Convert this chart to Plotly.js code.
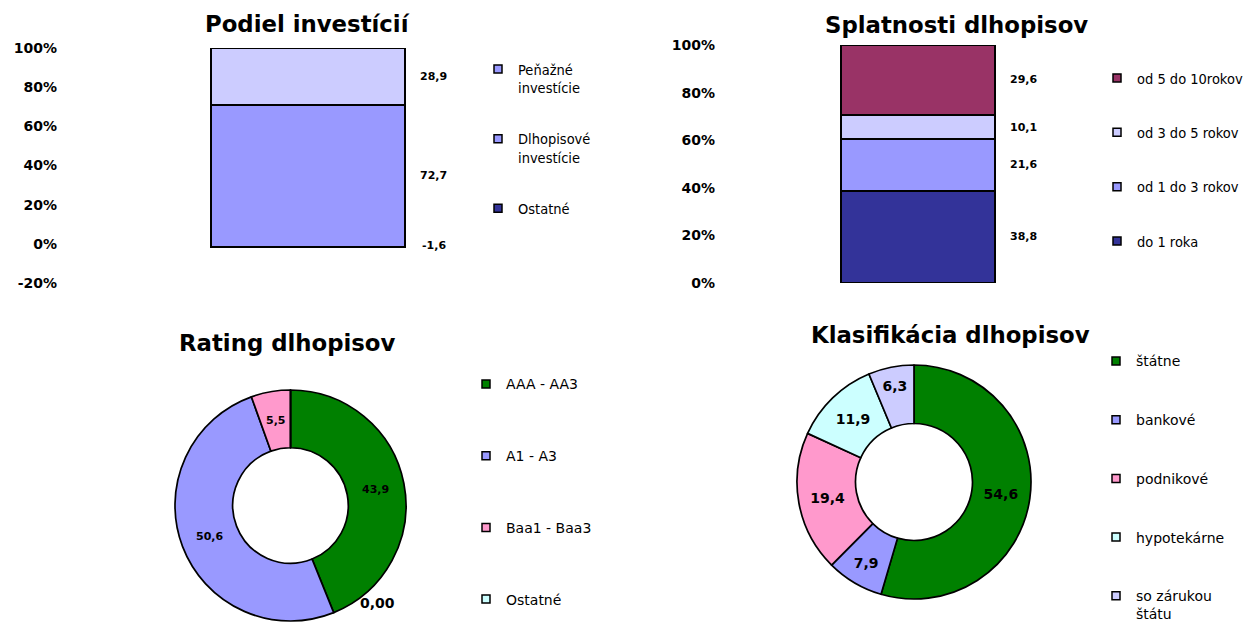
<!DOCTYPE html>
<html><head><meta charset="utf-8">
<script src="https://cdn.plot.ly/plotly-3.0.1.min.js"></script>
<style>html,body{margin:0;padding:0;background:#fff}#chart{width:1243px;height:623px}</style>
</head><body><div id="chart"></div>
<script>
// ---- Data ----
// Podiel investícií (stack order bottom -> top)
const investCategories = ['Ostatné', 'Dlhopisové<br>investície', 'Peňažné<br>investície'];
const investValues = [-1.6, 72.7, 28.9];
const investColors = ['#333399', '#9999FF', '#CCCCFF'];
const investLegendColors = ['#333399', '#9999FF', '#9999FF'];
// Splatnosti dlhopisov (stack order bottom -> top)
const maturityCategories = ['do 1 roka', 'od 1 do 3 rokov', 'od 3 do 5 rokov', 'od 5 do 10rokov'];
const maturityValues = [38.8, 21.6, 10.1, 29.6];
const maturityColors = ['#333399', '#9999FF', '#CCCCFF', '#993366'];
// Rating dlhopisov
const ratingLabels = ['AAA - AA3', 'A1 - A3', 'Baa1 - Baa3', 'Ostatné'];
const ratingValues = [43.9, 50.6, 5.5, 0];
const ratingColors = ['#008000', '#9999FF', '#FF99CC', '#CCFFFF'];
// Klasifikácia dlhopisov
const classLabels = ['štátne', 'bankové', 'podnikové', 'hypotekárne', 'so zárukou<br>štátu'];
const classValues = [54.6, 7.9, 19.4, 11.9, 6.3];
const classColors = ['#008000', '#9999FF', '#FF99CC', '#CCFFFF', '#CCCCFF'];
// Axis ticks
const investTicks = [-20, 0, 20, 40, 60, 80, 100];
const maturityTicks = [0, 20, 40, 60, 80, 100];

// ---- Layout helpers ----
const W = 1243, H = 623;
const px = x => x / W;
const py = y => 1 - y / H;
const fmt = (v, d) => v.toFixed(d).replace('.', ',');
const BOLD = {family: 'DejaVu Sans', weight: 'bold', color: '#000'};
const BAR_LINE = {color: '#000', width: 2};
const PIE_LINE = {color: '#000', width: 1.7};

const traces = [];
const annotations = [];

// Chart 1 bars
const barW1 = 194 / 499;
let cum = 0;
investValues.forEach((v, i) => {
  traces.push({type: 'bar', x: [0], y: [v], width: barW1, xaxis: 'x', yaxis: 'y',
    marker: {color: investColors[i], line: BAR_LINE}, showlegend: false, hoverinfo: 'y',
    name: investCategories[i]});
  annotations.push({xref: 'x', yref: 'y', x: barW1 / 2 + 0.059, y: cum + v / 2,
    text: fmt(v, 1), showarrow: false, xanchor: 'center', yanchor: 'middle',
    font: Object.assign({size: 11}, BOLD)});
  cum += v;
});
// Chart 2 bars
const barW2 = 153.4 / 404;
cum = 0;
maturityValues.forEach((v, i) => {
  traces.push({type: 'bar', x: [0], y: [v], width: barW2, xaxis: 'x2', yaxis: 'y2',
    marker: {color: maturityColors[i], line: BAR_LINE}, showlegend: false, hoverinfo: 'y',
    name: maturityCategories[i]});
  annotations.push({xref: 'x2', yref: 'y2', x: barW2 / 2 + 0.071, y: cum + v / 2,
    text: fmt(v, 1), showarrow: false, xanchor: 'center', yanchor: 'middle',
    font: Object.assign({size: 11}, BOLD)});
  cum += v;
});

// Pies
const ratingBox = {x0: 175, x1: 406, y0: 390, y1: 621};
const classBox = {x0: 797, x1: 1031, y0: 365, y1: 599};
const HOLE = 0.5;
traces.push({type: 'pie', labels: ratingLabels, values: ratingValues, sort: false,
  direction: 'clockwise', rotation: 0, hole: HOLE,
  domain: {x: [px(ratingBox.x0), px(ratingBox.x1)], y: [py(ratingBox.y1), py(ratingBox.y0)]},
  marker: {colors: ratingColors, line: PIE_LINE}, textinfo: 'none', showlegend: false});
traces.push({type: 'pie', labels: classLabels, values: classValues, sort: false,
  direction: 'clockwise', rotation: 0, hole: HOLE,
  domain: {x: [px(classBox.x0), px(classBox.x1)], y: [py(classBox.y1), py(classBox.y0)]},
  marker: {colors: classColors, line: PIE_LINE},
  text: classValues.map(v => fmt(v, 1)), textinfo: 'text',
  textposition: 'inside', insidetextorientation: 'horizontal',
  textfont: Object.assign({size: 14}, BOLD), showlegend: false});
// rating slice labels at the middle of each ring segment (fixed 11px like the original)
(function () {
  const cx = (ratingBox.x0 + ratingBox.x1) / 2, cy = (ratingBox.y0 + ratingBox.y1) / 2;
  const R = (ratingBox.x1 - ratingBox.x0) / 2, r = R * (1 + HOLE) / 2;
  const total = ratingValues.reduce((a, b) => a + b, 0);
  let c = 0;
  ratingValues.forEach(v => {
    const th = 2 * Math.PI * (c + v / 2) / total;
    if (v > 0) annotations.push({xref: 'paper', yref: 'paper',
      x: px(cx + r * Math.sin(th)), y: py(cy - r * Math.cos(th)), text: fmt(v, 1),
      showarrow: false, xanchor: 'center', yanchor: 'middle', font: Object.assign({size: 11}, BOLD)});
    c += v;
  });
})();
// zero-valued rating slice label (placed where the original shows it)
ratingValues.forEach(v => {
  if (v === 0) annotations.push({xref: 'paper', yref: 'paper', x: px(378), y: py(603),
    xanchor: 'center', yanchor: 'middle',
    text: fmt(v, 2), showarrow: false, font: Object.assign({size: 14}, BOLD)});
});

// Legend entries (legend-only traces)
function legendEntries(labels, colors, legendId, reverse) {
  const idx = labels.map((_, i) => i);
  if (reverse) idx.reverse();
  idx.forEach(i => {
    traces.push({type: 'scatter', mode: 'markers', x: [null], y: [null], xaxis: 'x', yaxis: 'y',
      name: labels[i], legend: legendId, legendgroup: legendId + i, showlegend: true,
      marker: {symbol: 'square', size: 8, color: colors[i], line: {color: '#000', width: 1.5}},
      hoverinfo: 'skip'});
  });
}
legendEntries(investCategories, investLegendColors, 'legend', true);
legendEntries(maturityCategories, maturityColors, 'legend2', true);
legendEntries(ratingLabels, ratingColors, 'legend3', false);
legendEntries(classLabels, classColors, 'legend4', false);

// Titles
const titleFont = Object.assign({size: 22.8}, BOLD);
[['Podiel investícií', 307, 24], ['Splatnosti dlhopisov', 956, 25],
 ['Rating dlhopisov', 287, 343], ['Klasifikácia dlhopisov', 950, 335]].forEach(t => {
  annotations.push({xref: 'paper', yref: 'paper', x: px(t[1]), y: py(t[2]), text: t[0],
    showarrow: false, xanchor: 'center', yanchor: 'middle', font: titleFont});
});

const axisBase = {showgrid: false, zeroline: false, showline: false, ticks: '', fixedrange: true};
const pct = v => (v < 0 ? '-' + Math.abs(v) : String(v)) + '%';
const legTop = {font: {family: 'DejaVu Sans Condensed, Liberation Sans', size: 14.5, color: '#000'},
  bgcolor: 'rgba(0,0,0,0)', xanchor: 'left', yanchor: 'top', traceorder: 'grouped', valign: 'top'};
const legBot = {font: {family: 'DejaVu Sans', size: 14, color: '#000'}, bgcolor: 'rgba(0,0,0,0)',
  xanchor: 'left', yanchor: 'top', traceorder: 'grouped', valign: 'top'};

const layout = {
  width: W, height: H, margin: {l: 0, r: 0, t: 0, b: 0, autoexpand: false},
  paper_bgcolor: '#fff', plot_bgcolor: 'rgba(0,0,0,0)',
  barmode: 'stack', showlegend: true, hovermode: 'closest',
  xaxis: Object.assign({domain: [px(58), px(557)], range: [-0.5, 0.5], showticklabels: false}, axisBase),
  yaxis: Object.assign({domain: [py(283), py(48)], range: [-20, 100], tickmode: 'array',
    tickvals: investTicks, ticktext: investTicks.map(pct),
    tickfont: Object.assign({size: 14}, BOLD)}, axisBase),
  xaxis2: Object.assign({domain: [px(716), px(1120)], range: [-0.5, 0.5], showticklabels: false, anchor: 'y2'}, axisBase),
  yaxis2: Object.assign({domain: [py(283), py(45)], range: [0, 100], tickmode: 'array',
    tickvals: maturityTicks, ticktext: maturityTicks.map(pct),
    tickfont: Object.assign({size: 14}, BOLD), anchor: 'x2'}, axisBase),
  legend: Object.assign({x: px(478), y: py(53), tracegroupgap: 29}, legTop),
  legend2: Object.assign({x: px(1097), y: py(62), tracegroupgap: 32.5}, legTop),
  legend3: Object.assign({x: px(466), y: py(368.4), tracegroupgap: 50.5}, legBot),
  legend4: Object.assign({x: px(1096), y: py(345.4), tracegroupgap: 37.5}, legBot),
  annotations: annotations
};

Plotly.newPlot('chart', traces, layout, {displayModeBar: false, staticPlot: true});
</script>
</body></html>
